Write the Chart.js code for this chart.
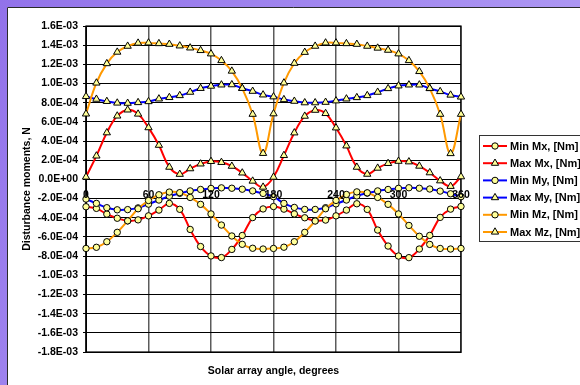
<!DOCTYPE html>
<html>
<head>
<meta charset="utf-8">
<script src="https://cdn.jsdelivr.net/npm/chart.js@4.4.0/dist/chart.umd.min.js"></script>
<style>
  html, body { margin: 0; padding: 0; background: #a48cf0; }
  canvas { display: block; }
</style>
</head>
<body>
<canvas id="chart" width="580" height="385"></canvas>
<script>
// Solar array angle, degrees
const angles = [0, 10, 20, 30, 40, 50, 60, 70, 80, 90, 100, 110, 120, 130, 140, 150, 160, 170, 180,
                190, 200, 210, 220, 230, 240, 250, 260, 270, 280, 290, 300, 310, 320, 330, 340, 350, 360];

// Disturbance moments, N·m
const minMx = [-2.85e-4, -3.02e-4, -3.62e-4, -4.05e-4, -4.32e-4, -4.22e-4, -3.80e-4, -3.20e-4, -2.50e-4, -3.12e-4,
               -5.22e-4, -7.00e-4, -7.98e-4, -8.15e-4, -7.30e-4, -5.85e-4, -3.98e-4, -3.08e-4, -2.83e-4,
               -3.10e-4, -3.60e-4, -4.00e-4, -4.30e-4, -4.24e-4, -3.80e-4, -3.20e-4, -2.54e-4, -3.13e-4,
               -5.28e-4, -6.95e-4, -7.99e-4, -8.16e-4, -7.26e-4, -5.84e-4, -3.96e-4, -3.10e-4, -2.82e-4];
const maxMx = [0.25e-4, 2.45e-4, 4.87e-4, 6.62e-4, 7.25e-4, 6.82e-4, 5.40e-4, 3.57e-4, 1.28e-4, 0.54e-4,
               1.12e-4, 1.62e-4, 1.88e-4, 1.78e-4, 1.38e-4, 0.68e-4, -0.17e-4, -0.80e-4, 0.24e-4,
               2.50e-4, 4.86e-4, 6.60e-4, 7.22e-4, 6.88e-4, 5.38e-4, 3.50e-4, 1.28e-4, 0.55e-4,
               1.18e-4, 1.67e-4, 1.90e-4, 1.84e-4, 1.39e-4, 0.70e-4, -0.14e-4, -0.72e-4, 0.28e-4];
const minMy = [-2.05e-4, -2.50e-4, -2.95e-4, -3.17e-4, -3.15e-4, -2.97e-4, -2.58e-4, -2.15e-4, -1.75e-4, -1.45e-4,
               -1.20e-4, -1.05e-4, -0.94e-4, -0.88e-4, -0.92e-4, -1.02e-4, -1.20e-4, -1.46e-4, -1.80e-4,
               -2.50e-4, -2.92e-4, -3.13e-4, -3.13e-4, -2.95e-4, -2.55e-4, -2.15e-4, -1.72e-4, -1.43e-4,
               -1.20e-4, -1.05e-4, -0.93e-4, -0.87e-4, -0.92e-4, -1.00e-4, -1.22e-4, -1.50e-4, -1.80e-4];
const maxMy = [8.65e-4, 8.37e-4, 8.14e-4, 7.97e-4, 7.95e-4, 8.02e-4, 8.12e-4, 8.40e-4, 8.55e-4, 8.75e-4,
               9.10e-4, 9.50e-4, 9.73e-4, 9.86e-4, 9.88e-4, 9.50e-4, 9.20e-4, 8.82e-4, 8.62e-4,
               8.33e-4, 8.16e-4, 8.00e-4, 8.00e-4, 8.05e-4, 8.20e-4, 8.40e-4, 8.54e-4, 8.75e-4,
               9.10e-4, 9.48e-4, 9.76e-4, 9.86e-4, 9.86e-4, 9.48e-4, 9.17e-4, 8.80e-4, 8.60e-4];
const minMz = [-7.20e-4, -7.08e-4, -6.50e-4, -5.52e-4, -4.32e-4, -3.06e-4, -2.20e-4, -1.60e-4, -1.32e-4, -1.38e-4,
               -1.88e-4, -2.60e-4, -3.60e-4, -4.76e-4, -5.90e-4, -6.77e-4, -7.18e-4, -7.26e-4, -7.20e-4,
               -7.07e-4, -6.50e-4, -5.52e-4, -4.34e-4, -3.06e-4, -2.19e-4, -1.57e-4, -1.30e-4, -1.40e-4,
               -1.88e-4, -2.60e-4, -3.60e-4, -4.80e-4, -5.93e-4, -6.78e-4, -7.20e-4, -7.26e-4, -7.20e-4];
const maxMz = [6.83e-4, 10.06e-4, 12.08e-4, 13.28e-4, 13.90e-4, 14.22e-4, 14.24e-4, 14.17e-4, 14.10e-4, 13.93e-4,
               13.72e-4, 13.45e-4, 13.10e-4, 12.40e-4, 11.30e-4, 9.50e-4, 6.80e-4, 2.72e-4, 6.85e-4,
               10.07e-4, 12.12e-4, 13.26e-4, 13.90e-4, 14.24e-4, 14.24e-4, 14.17e-4, 14.10e-4, 13.90e-4,
               13.70e-4, 13.48e-4, 13.10e-4, 12.40e-4, 11.26e-4, 9.50e-4, 6.80e-4, 2.70e-4, 6.80e-4];

const seriesLabels = ['Min Mx, [Nm]', 'Max Mx, [Nm]', 'Min My, [Nm]', 'Max My, [Nm]', 'Min Mz, [Nm]', 'Max Mz, [Nm]'];

// Angle labels printed along the zero line
const xTickValues = [0, 60, 120, 180, 240, 300, 360];
const xTickLabels = ['0', '60', '120', '180', '240', '300', '360'];

const FONT = '"Liberation Sans", Arial, Helvetica, sans-serif';
const MARKER_FILL = '#ffff99';

function series(label, values, color, style, order) {
  return {
    label,
    data: angles.map((a, i) => ({ x: a, y: values[i] })),
    borderColor: color,
    backgroundColor: color,
    borderWidth: 2,
    tension: 0.4,
    fill: false,
    clip: false,
    order,
    pointStyle: style,
    pointRadius: style === 'triangle' ? 4.2 : 3.2,
    pointBorderWidth: 1,
    pointBorderColor: '#000',
    pointBackgroundColor: MARKER_FILL
  };
}

function sciLabel(value) {
  const v = Math.round(value * 1e6) / 1e6;
  if (Math.abs(v) < 1e-12) return '0.0E+00';
  const [mant, exp] = v.toExponential(1).split('e');
  const sign = exp[0] === '-' ? '-' : '+';
  const digits = exp.replace(/^[+-]/, '').padStart(2, '0');
  return mant + 'E' + sign + digits;
}

function drawMarker(ctx, style, x, y, r) {
  ctx.beginPath();
  if (style === 'triangle') {
    let rad = 0;
    ctx.moveTo(x + Math.sin(rad) * r, y - Math.cos(rad) * r);
    rad += Math.PI * 2 / 3;
    ctx.lineTo(x + Math.sin(rad) * r, y - Math.cos(rad) * r);
    rad += Math.PI * 2 / 3;
    ctx.lineTo(x + Math.sin(rad) * r, y - Math.cos(rad) * r);
    ctx.closePath();
  } else {
    ctx.arc(x, y, r, 0, Math.PI * 2);
  }
  ctx.fillStyle = MARKER_FILL;
  ctx.fill();
  ctx.lineWidth = 1;
  ctx.strokeStyle = '#000';
  ctx.stroke();
}

// Purple frame and the white chart panel
const framePlugin = {
  id: 'frame',
  beforeDraw(chart) {
    const { ctx, width, height } = chart;
    ctx.save();
    const g = ctx.createLinearGradient(0, 0, width, height);
    g.addColorStop(0, '#9272ea');
    g.addColorStop(1, '#b8a6f7');
    ctx.fillStyle = g;
    ctx.fillRect(0, 0, width, height);
    ctx.fillStyle = '#ffffff';
    ctx.fillRect(7, 7, width - 7, height - 7);
    ctx.strokeStyle = '#2a2a2a';
    ctx.lineWidth = 1;
    ctx.beginPath();
    ctx.moveTo(7.5, height);
    ctx.lineTo(7.5, 7.5);
    ctx.lineTo(width, 7.5);
    ctx.stroke();
    ctx.restore();
  },
  beforeDatasetsDraw(chart) {
    const { ctx, chartArea: a } = chart;
    ctx.save();
    ctx.strokeStyle = '#000';
    ctx.lineWidth = 1.2;
    ctx.strokeRect(a.left, a.top, a.right - a.left, a.bottom - a.top);
    ctx.restore();
  }
};

// Angle labels at the zero crossing, plus the series key on the right
const overlayPlugin = {
  id: 'overlay',
  afterDraw(chart) {
    const { ctx } = chart;
    const xs = chart.scales.x, ys = chart.scales.y;
    ctx.save();
    ctx.font = 'bold 10.5px ' + FONT;
    ctx.fillStyle = '#000';
    ctx.textAlign = 'center';
    ctx.textBaseline = 'middle';
    const y0 = ys.getPixelForValue(0) + 16;
    xTickValues.forEach((v, i) => {
      ctx.fillText(xTickLabels[i], xs.getPixelForValue(v), y0);
    });

    // key box
    const bx = 479.5, by = 135.5, bw = 120, bh = 106;
    ctx.fillStyle = '#fff';
    ctx.fillRect(bx, by, bw, bh);
    ctx.strokeStyle = '#333';
    ctx.lineWidth = 1;
    ctx.strokeRect(bx, by, bw, bh);
    ctx.font = 'bold 11px ' + FONT;
    ctx.textAlign = 'left';
    chart.data.datasets.forEach((ds, i) => {
      const ry = 146 + i * 17.2;
      ctx.strokeStyle = ds.borderColor;
      ctx.lineWidth = 2;
      ctx.beginPath();
      ctx.moveTo(483, ry);
      ctx.lineTo(507, ry);
      ctx.stroke();
      drawMarker(ctx, ds.pointStyle, 495, ry, ds.pointStyle === 'triangle' ? 4.2 : 3.2);
      ctx.fillStyle = '#000';
      ctx.fillText(ds.label, 510, ry + 0.5);
    });
    ctx.restore();
  }
};

new Chart(document.getElementById('chart'), {
  type: 'line',
  data: {
    datasets: [
      series(seriesLabels[0], minMx, '#ff0000', 'circle', 6),
      series(seriesLabels[1], maxMx, '#ff0000', 'triangle', 5),
      series(seriesLabels[2], minMy, '#0000ff', 'circle', 4),
      series(seriesLabels[3], maxMy, '#0000ff', 'triangle', 3),
      series(seriesLabels[4], minMz, '#ff9900', 'circle', 2),
      series(seriesLabels[5], maxMz, '#ff9900', 'triangle', 1)
    ]
  },
  options: {
    responsive: false,
    animation: false,
    devicePixelRatio: 1,
    layout: { padding: { left: 0, top: 26, right: 119, bottom: 0 } },
    plugins: { legend: { display: false }, tooltip: { enabled: false } },
    scales: {
      x: {
        type: 'linear',
        min: 0,
        max: 360,
        ticks: { display: false, stepSize: 60 },
        grid: { color: '#5c5c5c', lineWidth: 1.5, drawTicks: false },
        border: { display: true, color: '#000', width: 1 },
        title: {
          display: true,
          text: 'Solar array angle, degrees',
          color: '#000',
          font: { family: FONT, size: 10.5, weight: 'bold' },
          padding: { top: 0, bottom: 7.7 }
        },
        afterFit(scale) { scale.height = 33; }
      },
      y: {
        type: 'linear',
        min: -0.0018,
        max: 0.0016,
        ticks: {
          stepSize: 0.0002,
          autoSkip: false,
          padding: 5,
          color: '#000',
          font: { family: FONT, size: 10.5, weight: 'bold' },
          callback: (v) => sciLabel(v)
        },
        grid: { color: '#000', lineWidth: 1, drawTicks: true, tickLength: 3 },
        border: { display: true, color: '#000', width: 1 },
        title: {
          display: true,
          text: 'Disturbance moments, N',
          color: '#000',
          font: { family: FONT, size: 10.5, weight: 'bold' },
          padding: { top: 20.7, bottom: 0 }
        },
        afterFit(scale) { scale.width = 86; }
      }
    }
  },
  plugins: [framePlugin, overlayPlugin]
});
</script>
</body>
</html>
